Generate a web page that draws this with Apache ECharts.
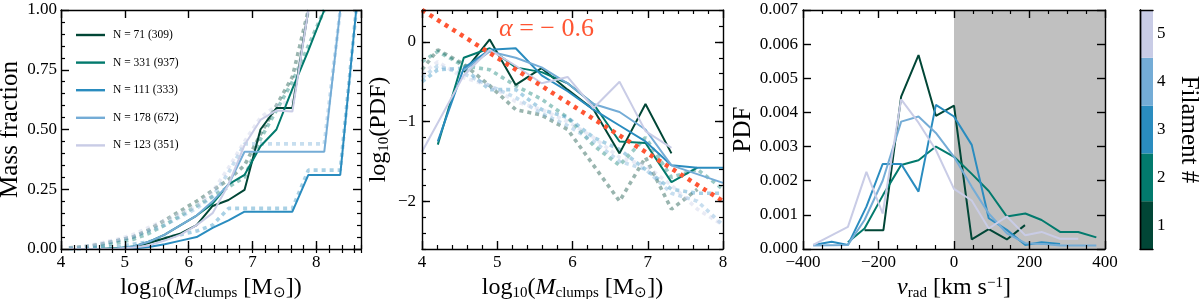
<!DOCTYPE html>
<html><head><meta charset="utf-8">
<script src="https://cdn.jsdelivr.net/npm/echarts@6/dist/echarts.min.js"></script>
<style>html,body{margin:0;padding:0;background:#fff}#c{width:1200px;height:299px}</style>
</head><body><div id="c"></div><script>
// ---------------- DATA ----------------
const COLORS = ['#014636', '#027a6d', '#2a8cbf', '#74acd6', '#c9cce6'];
const LEGEND_NAMES = ['N = 71 (309)', 'N = 331 (937)', 'N = 111 (333)', 'N = 178 (672)', 'N = 123 (351)'];
const FIL_LABELS = ['1', '2', '3', '4', '5'];

// Left panel: cumulative mass fraction vs log10 Mclumps
const massX = [4.125,4.375,4.625,4.875,5.125,5.375,5.625,5.875,6.125,6.375,6.625,6.875,7.125,7.375,7.625,7.875,8.125,8.375,8.625];
const mfSolid1 = [0,0,0,0.002,0.008,0.025,0.045,0.065,0.10,0.18,0.205,0.247,0.50,0.59,0.59,1.0,null,null,null];
const mfSolid2 = [0,0,0,0.003,0.01,0.03,0.06,0.10,0.14,0.19,0.27,0.31,0.43,0.50,0.67,0.83,1.0,null,null];
const mfSolid3 = [0,0,0,0,0.002,0.008,0.02,0.035,0.05,0.088,0.12,0.156,0.156,0.156,0.156,0.31,0.31,0.31,1.0];
const mfSolid4 = [0,0,0,0.002,0.01,0.03,0.06,0.10,0.14,0.20,0.27,0.407,0.407,0.407,0.407,0.407,0.407,1.0,null];
const mfSolid5 = [0,0,0,0.001,0.005,0.015,0.035,0.06,0.10,0.15,0.27,0.435,0.54,0.58,0.575,1.0,null,null,null];
const mfDot1 = [0.005,0.01,0.02,0.035,0.05,0.08,0.12,0.16,0.20,0.245,0.29,0.35,0.48,0.60,0.72,1.0,null,null,null];
const mfDot2 = [0.002,0.006,0.012,0.025,0.04,0.065,0.10,0.14,0.18,0.22,0.26,0.30,0.46,0.58,0.70,0.85,1.0,null,null];
const mfDot3 = [0,0.001,0.005,0.01,0.02,0.03,0.045,0.06,0.075,0.10,0.17,0.17,0.17,0.17,0.17,0.33,0.33,0.33,1.0];
const mfDot4 = [0.003,0.008,0.02,0.035,0.05,0.075,0.10,0.135,0.17,0.22,0.32,0.44,0.44,0.44,0.44,0.44,0.44,1.0,null];
const mfDot5 = [0.004,0.01,0.025,0.04,0.06,0.09,0.12,0.15,0.18,0.24,0.34,0.45,0.55,0.60,0.62,1.0,null,null,null];

// Middle panel: log10(PDF) vs log10 Mclumps  ([x, y] pairs)
const pdf1 = [[4.555,-0.38],[4.9,0.03],[5.245,-0.54],[5.59,-0.33],[5.935,-0.6],[6.28,-0.85],[6.625,-1.4],[6.97,-0.78],[7.315,-1.4]];
const pdf2 = [[4.21,-1.29],[4.555,-0.2],[4.9,-0.08],[5.245,-0.32],[5.59,-0.38],[5.935,-0.52],[6.28,-0.78],[6.625,-1.25],[6.97,-1.27],[7.315,-1.76],[7.66,-1.58]];
const pdf3 = [[4.21,-1.25],[4.555,-0.33],[4.9,-0.1],[5.245,-0.08],[5.59,-0.42],[5.935,-0.62],[6.28,-0.85],[6.625,-1.05],[6.97,-1.25],[7.315,-1.55],[7.66,-1.58],[8.0,-1.58]];
const pdf4 = [[4.555,-0.36],[4.9,-0.12],[5.245,-0.2],[5.59,-0.32],[5.935,-0.52],[6.28,-0.78],[6.625,-0.88],[6.97,-1.1],[7.315,-1.55],[8.0,-1.77]];
const pdf5 = [[4.0,-1.38],[4.555,-0.42],[4.9,-0.1],[5.245,-0.3],[5.59,-0.52],[5.935,-0.44],[6.28,-0.83],[6.625,-0.5],[6.97,-1.12],[7.315,-1.33]];
const pdfDot1 = [[4.0,-0.35],[4.21,-0.1],[4.555,-0.28],[4.9,-0.55],[5.245,-0.85],[5.59,-0.92],[5.935,-1.1],[6.28,-1.55],[6.625,-2.0],[6.97,-1.45],[7.315,-2.1],[7.66,-1.85]];
const pdfDot2 = [[4.0,-0.25],[4.21,-0.12],[4.555,-0.3],[4.9,-0.35],[5.245,-0.55],[5.59,-0.72],[5.935,-0.95],[6.28,-1.3],[6.625,-1.55],[6.97,-1.2],[7.315,-1.7],[7.66,-1.6],[8.0,-1.85]];
const pdfDot3 = [[4.0,-0.5],[4.21,-0.35],[4.555,-0.33],[4.9,-0.6],[5.245,-0.6],[5.59,-0.85],[5.935,-0.95],[6.28,-1.2],[6.625,-1.35],[6.97,-1.6],[7.315,-1.85],[7.66,-1.9],[8.0,-1.9]];
const pdfDot4 = [[4.0,-0.45],[4.21,-0.3],[4.555,-0.4],[4.9,-0.55],[5.245,-0.7],[5.59,-0.9],[5.935,-1.05],[6.28,-1.25],[6.625,-1.5],[6.97,-1.6],[7.315,-1.9],[7.66,-2.0],[8.0,-2.3]];
const pdfDot5 = [[4.0,-0.4],[4.21,-0.25],[4.555,-0.45],[4.9,-0.55],[5.245,-0.75],[5.59,-0.85],[5.935,-1.0],[6.28,-1.2],[6.625,-1.45],[6.97,-1.55],[7.315,-1.8],[7.66,-2.1],[8.0,-2.3]];
const fitX = [4, 8];
const fitY = [0.4, -2.0];

// Right panel: PDF vs v_rad
const vrad1 = [[-237,0.00055],[-187,0.00055],[-140,0.00446],[-94,0.00568],[-48,0.0039],[0,0.0042],[47,0.00028],[92,0.00058],[140,0.00028],[188,0.0007]];
const vrad2 = [[-281,0.0002],[-237,0.0006],[-187,0.0016],[-140,0.00246],[-94,0.0026],[-48,0.003],[0,0.0027],[47,0.0022],[92,0.0017],[140,0.00095],[189,0.00104],[232,0.00085],[281,0.0005],[329,0.0005],[377,0.00034]];
const vrad3 = [[-373,0.00012],[-324,0.00021],[-281,0.00012],[-232,0.00124],[-189,0.00249],[-140,0.00249],[-94,0.00168],[-48,0.00422],[0,0.00388],[47,0.00305],[92,0.0009],[140,0.00056],[189,0.00012],[232,0.0002],[281,0.00015]];
const vrad4 = [[-373,0.0001],[-281,0.00012],[-237,0.00085],[-189,0.002],[-140,0.00373],[-94,0.00388],[-48,0.0034],[0,0.0027],[47,0.00182],[92,0.00104],[140,0.00046],[189,0.00017],[232,0.00015],[281,0.0001],[329,0.0001],[377,0.0001]];
const vrad5 = [[-373,0.00012],[-281,0.00065],[-232,0.00226],[-189,0.00104],[-140,0.00438],[-94,0.0037],[-48,0.0029],[0,0.00176],[47,0.00142],[92,0.0006],[140,0.00095],[189,0.0004],[232,0.0005],[281,0.0003],[329,0.0003]];
const infallRange = [0, 400];

// ---------------- CHART ----------------
const FONT = 'Liberation Serif';
const tickLbl = (fmt, margin) => ({show: true, fontFamily: FONT, fontSize: 17, color: '#000', margin: margin, formatter: fmt});
const minus = v => String(v).replace('-', '\u2212');
const richStyles = {
  n: {fontFamily: FONT, fontSize: 24, lineHeight: 25, verticalAlign: 'top', color: '#000'},
  i: {fontFamily: FONT, fontSize: 24, lineHeight: 25, verticalAlign: 'top', fontStyle: 'italic', color: '#000'},
  s: {fontFamily: FONT, fontSize: 15, lineHeight: 15, padding: [10, 0, 0, 0], verticalAlign: 'top', color: '#000'},
  p: {fontFamily: FONT, fontSize: 15, lineHeight: 15, padding: [0, 0, 0, 0], verticalAlign: 'top', color: '#000'}
};
const nameStyle = {fontFamily: FONT, fontSize: 24, color: '#000', rich: richStyles};

function major(gridIndex, position, o) {
  return Object.assign({
    gridIndex: gridIndex, type: 'value', position: position, z: 10,
    axisLine: {show: true, onZero: false, lineStyle: {color: '#000', width: 1.4}},
    axisTick: {show: true, inside: true, length: 8, lineStyle: {color: '#000', width: 1.4}},
    axisLabel: {show: false},
    splitLine: {show: false}
  }, o);
}
function minorAx(gridIndex, position, o) {
  return Object.assign({
    gridIndex: gridIndex, type: 'value', position: position, z: 10,
    axisLine: {show: false},
    axisTick: {show: true, inside: true, length: 4, lineStyle: {color: '#000', width: 1.2}},
    axisLabel: {show: false},
    splitLine: {show: false}
  }, o);
}
const mt = n => ({show: true, splitNumber: n, length: 4, lineStyle: {color: '#000', width: 1.2}});

const xName1 = '{n|log}{s|10}{n|(}{i|M}{s|clumps}{n| [M}{s|\u2299}{n|])}';

const xAxes = [
  major(0, 'bottom', {min: 4, max: 8.7, interval: 1, axisLabel: Object.assign(tickLbl(null, 5), {showMaxLabel: false}),
    name: xName1, nameLocation: 'middle', nameGap: 17, nameTextStyle: nameStyle}),
  major(0, 'top', {min: 4, max: 8.7, interval: 1}),
  minorAx(0, 'bottom', {min: 4, max: 8.7, interval: 0.2}),
  minorAx(0, 'top', {min: 4, max: 8.7, interval: 0.2}),
  major(1, 'bottom', {min: 4, max: 8, interval: 1, minorTick: mt(5), axisLabel: tickLbl(null, 5),
    name: xName1, nameLocation: 'middle', nameGap: 17, nameTextStyle: nameStyle}),
  major(1, 'top', {min: 4, max: 8, interval: 1, minorTick: mt(5)}),
  major(2, 'bottom', {min: -400, max: 400, interval: 200, minorTick: mt(4), axisLabel: tickLbl(minus, 5),
    name: '{i|v}{s|rad}{n| [km s}{p|\u22121}{n|]}', nameLocation: 'middle', nameGap: 17, nameTextStyle: nameStyle}),
  major(2, 'top', {min: -400, max: 400, interval: 200, minorTick: mt(4)}),
  major(3, 'bottom', {min: 0, max: 1, axisTick: {show: false}}),
  major(3, 'top', {min: 0, max: 1, axisTick: {show: false}})
];

const yAxes = [
  major(0, 'left', {min: 0, max: 1, interval: 0.25, minorTick: mt(5), axisLabel: tickLbl(v => v.toFixed(2), 4),
    name: 'Mass fraction', nameLocation: 'middle', nameGap: 34, nameTextStyle: {fontFamily: FONT, fontSize: 25, color: '#000'}}),
  major(0, 'right', {min: 0, max: 1, interval: 0.25, minorTick: mt(5)}),
  major(1, 'left', {min: -2.6, max: 0.4, axisTick: {show: true, inside: true, length: 8, customValues: [-2, -1, 0], lineStyle: {color: '#000', width: 1.4}},
    axisLabel: Object.assign(tickLbl(minus, 6), {customValues: [-2, -1, 0]}),
    name: '{n|log}{s|10}{n|(PDF)}', nameLocation: 'middle', nameGap: 30, nameTextStyle: nameStyle}),
  major(1, 'right', {min: -2.6, max: 0.4, axisTick: {show: true, inside: true, length: 8, customValues: [-2, -1, 0], lineStyle: {color: '#000', width: 1.4}}}),
  minorAx(1, 'left', {min: -2.6, max: 0.4, interval: 0.2}),
  minorAx(1, 'right', {min: -2.6, max: 0.4, interval: 0.2}),
  major(2, 'left', {min: 0, max: 0.007, interval: 0.001, axisLabel: tickLbl(v => v.toFixed(3), 5),
    name: 'PDF', nameLocation: 'middle', nameGap: 46, nameTextStyle: {fontFamily: FONT, fontSize: 25, color: '#000'}}),
  major(2, 'right', {min: 0, max: 0.007, interval: 0.001}),
  {gridIndex: 3, type: 'category', position: 'right', data: FIL_LABELS, z: 10,
    axisLine: {show: true, lineStyle: {color: '#000', width: 1.4}}, axisTick: {show: false},
    axisLabel: {show: true, fontFamily: FONT, fontSize: 17, color: '#000', margin: 4},
    name: 'Filament #', nameLocation: 'middle', nameRotate: -90, nameGap: 23,
    nameTextStyle: {fontFamily: FONT, fontSize: 25, color: '#000'}},
  {gridIndex: 3, type: 'category', position: 'left', data: FIL_LABELS, z: 10,
    axisLine: {show: true, lineStyle: {color: '#000', width: 1.4}}, axisTick: {show: false}, axisLabel: {show: false}}
];

const pairs = (xs, ys) => xs.map((x, i) => [x, ys[i]]).filter(p => p[1] !== null);
const series = [];
const mfSolid = [mfSolid1, mfSolid2, mfSolid3, mfSolid4, mfSolid5];
const mfDot = [mfDot1, mfDot2, mfDot3, mfDot4, mfDot5];
const pdfSolid = [pdf1, pdf2, pdf3, pdf4, pdf5];
const pdfDot = [pdfDot1, pdfDot2, pdfDot3, pdfDot4, pdfDot5];
const vrad = [vrad1, vrad2, vrad3, vrad4, vrad5];
const dotted = c => ({color: c, width: 3.6, type: [4, 4], opacity: 0.4});
const solid = c => ({color: c, width: 2});

for (let i = 0; i < 5; i++) {
  series.push({type: 'line', name: 'mfdot' + i, xAxisIndex: 0, yAxisIndex: 0, data: pairs(massX, mfDot[i]),
    symbol: 'none', lineStyle: dotted(COLORS[i]), z: 3});
  series.push({type: 'line', name: 'pdfdot' + i, xAxisIndex: 4, yAxisIndex: 2, data: pdfDot[i],
    symbol: 'none', lineStyle: dotted(COLORS[i]), z: 3});
}
for (let i = 0; i < 5; i++) {
  series.push({type: 'line', name: LEGEND_NAMES[i], xAxisIndex: 0, yAxisIndex: 0, data: pairs(massX, mfSolid[i]),
    symbol: 'none', showSymbol: false, lineStyle: solid(COLORS[i]), itemStyle: {color: COLORS[i]}, z: 4});
  series.push({type: 'line', name: 'pdf' + i, xAxisIndex: 4, yAxisIndex: 2, data: pdfSolid[i],
    symbol: 'none', lineStyle: solid(COLORS[i]), z: 4});
  series.push({type: 'line', name: 'vrad' + i, xAxisIndex: 6, yAxisIndex: 6, data: vrad[i],
    symbol: 'none', lineStyle: solid(COLORS[i]), z: 4});
}
series.push({type: 'line', name: 'fit', xAxisIndex: 4, yAxisIndex: 2, data: pairs(fitX, fitY),
  symbol: 'none', lineStyle: {color: '#ff5533', width: 4.5, type: [4, 5]}, z: 5});
series.push({type: 'line', name: 'shade', xAxisIndex: 6, yAxisIndex: 6, data: [[infallRange[0], 0]], symbol: 'none',
  lineStyle: {opacity: 0}, z: 1, silent: true,
  markArea: {silent: true, itemStyle: {color: '#c0c0c0', opacity: 1}, data: [[{xAxis: infallRange[0]}, {xAxis: infallRange[1]}]]}});
series.push({type: 'bar', name: 'cbar', xAxisIndex: 8, yAxisIndex: 8, barWidth: '100%', barCategoryGap: '0%',
  data: FIL_LABELS.map((_, i) => ({value: 1, itemStyle: {color: COLORS[i]}})), z: 2});

const option = {
  animation: false,
  backgroundColor: '#fff',
  textStyle: {fontFamily: FONT},
  grid: [
    {left: 61, top: 10, width: 300, height: 239, outerBoundsMode: 'none'},
    {left: 422, top: 10, width: 301, height: 239, outerBoundsMode: 'none'},
    {left: 803, top: 10, width: 302, height: 239, outerBoundsMode: 'none'},
    {left: 1140, top: 10, width: 13, height: 239, outerBoundsMode: 'none'}
  ],
  title: {text: '{a|α}{b| = − 0.6}', left: 494, top: 11,
    textStyle: {fontFamily: FONT, fontWeight: 'normal', fontSize: 26, color: '#ff5533',
      rich: {a: {fontFamily: FONT, fontStyle: 'italic', fontWeight: 'normal', fontSize: 26, color: '#ff5533'},
             b: {fontFamily: FONT, fontWeight: 'normal', fontSize: 26, color: '#ff5533'}}}},
  legend: {data: LEGEND_NAMES, orient: 'vertical', left: 71, top: 24, icon: 'rect', itemWidth: 29, itemHeight: 2.4, itemGap: 15.6,
    textStyle: {fontFamily: FONT, fontSize: 11.5, color: '#000', padding: [0, 0, 0, 3]}},
  xAxis: xAxes,
  yAxis: yAxes,
  series: series
};
const chart = echarts.init(document.getElementById('c'), null, {renderer: 'canvas'});
chart.setOption(option);
</script></body></html>
